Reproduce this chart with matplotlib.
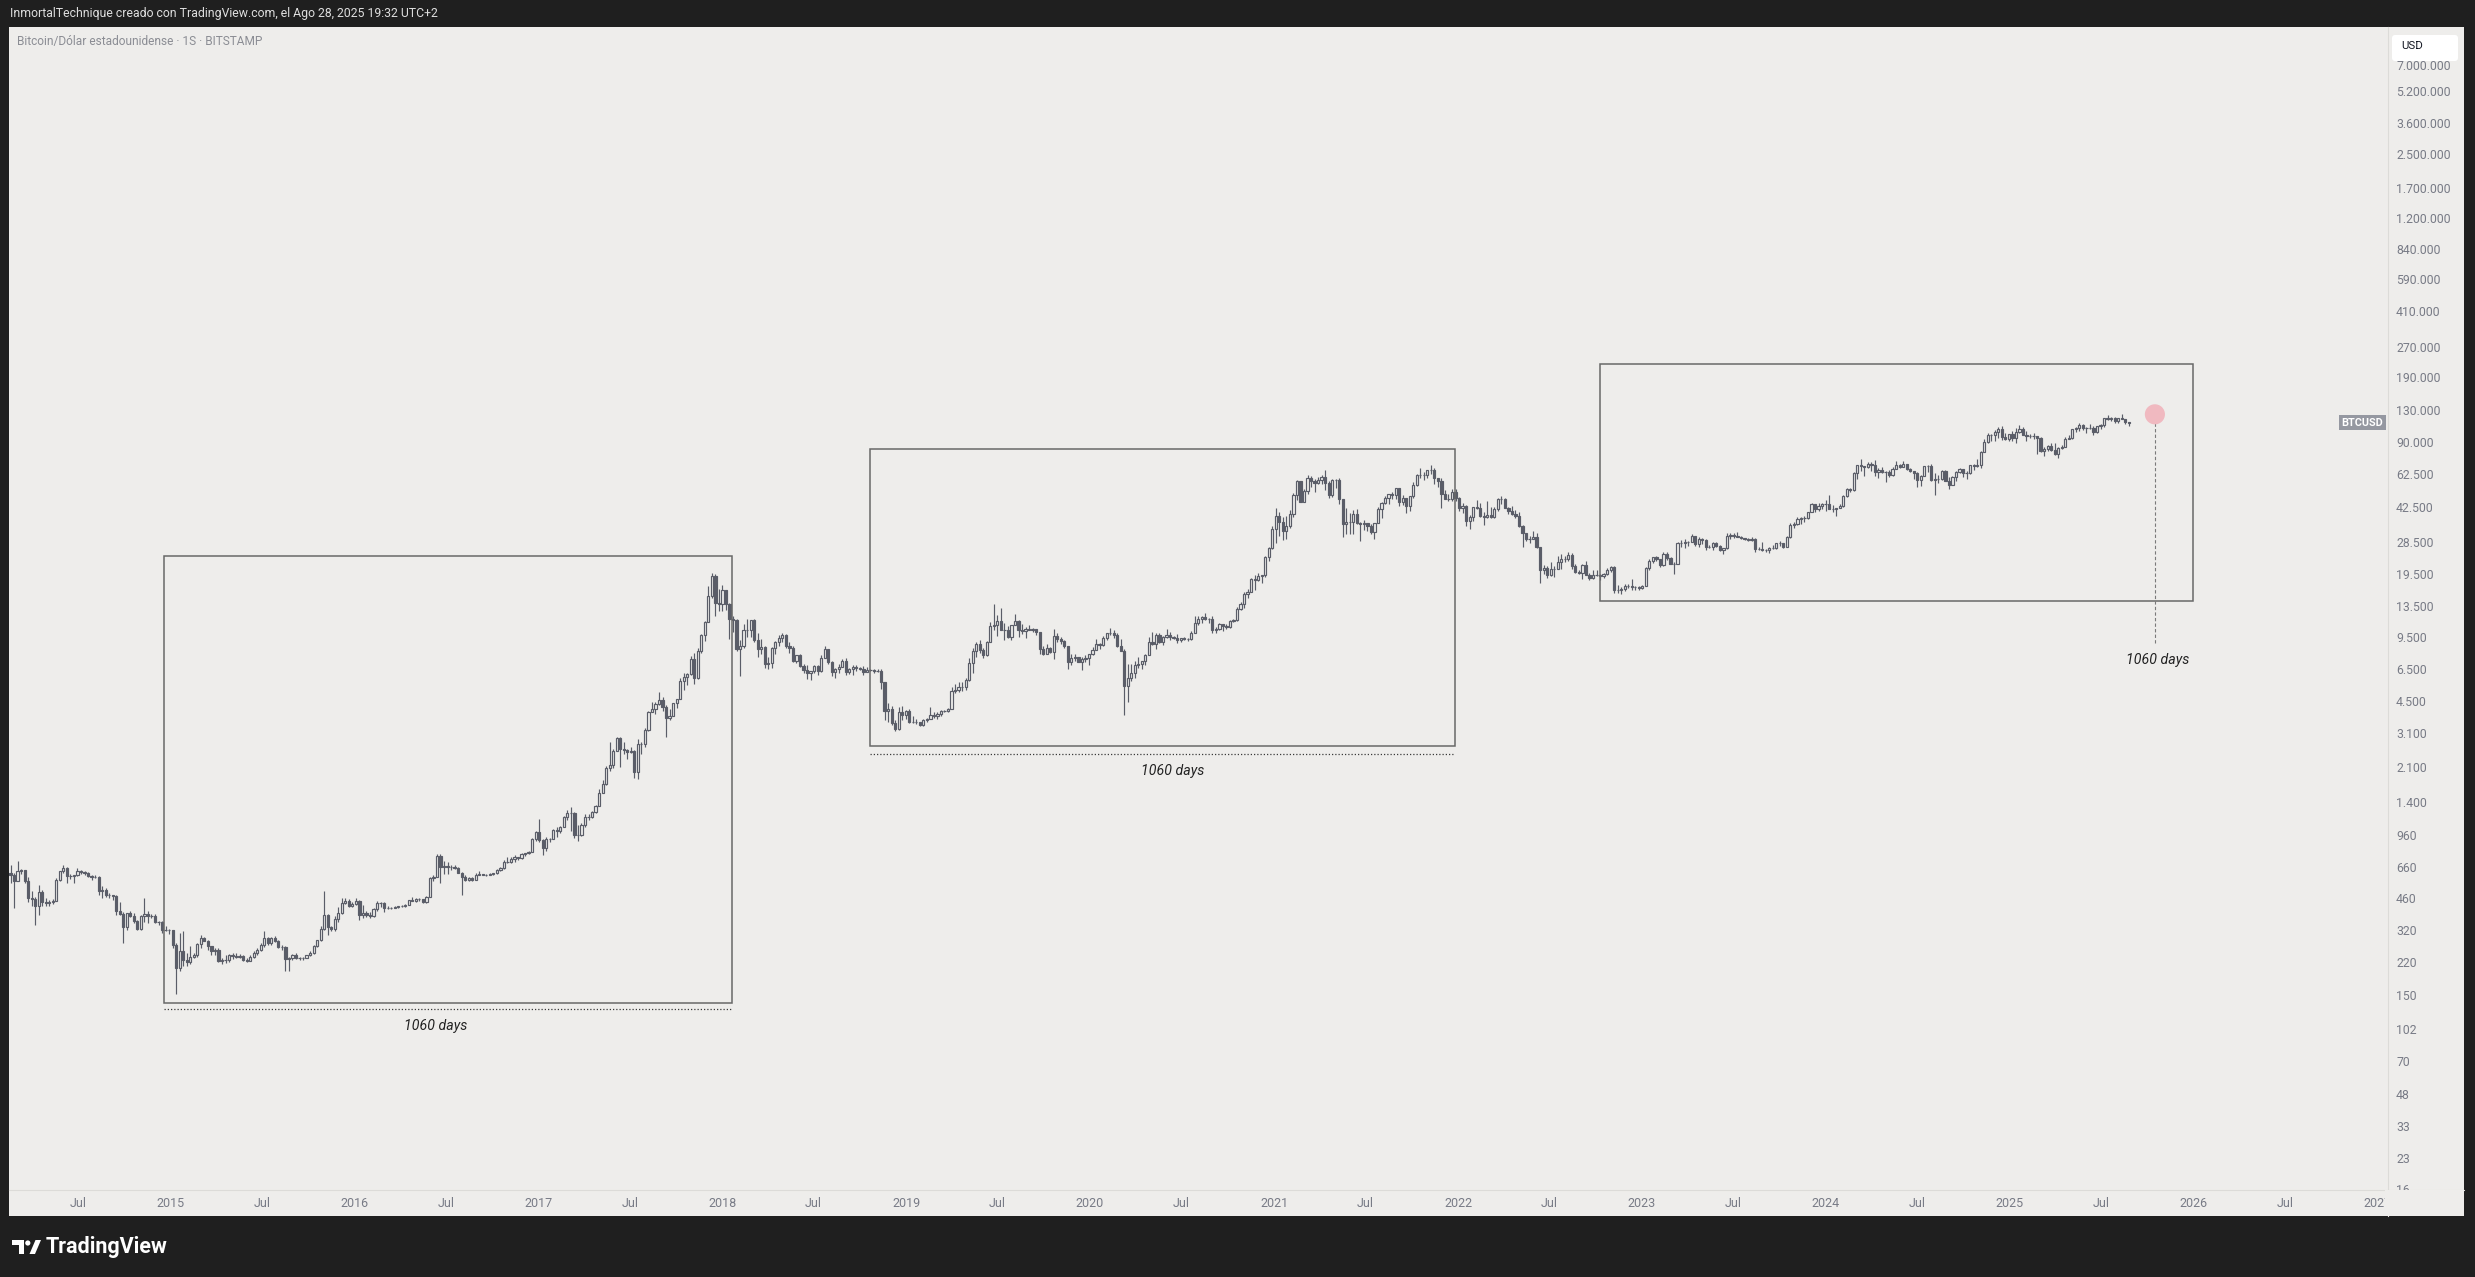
import datetime as dt
import numpy as np
import matplotlib
matplotlib.use("Agg")
import matplotlib.pyplot as plt
import matplotlib.dates as mdates
import matplotlib.ticker as mticker
from matplotlib.patches import Rectangle, Polygon, Circle, FancyBboxPatch
from matplotlib.lines import Line2D
from matplotlib.transforms import Affine2D

plt.rcParams['font.family'] = ['Roboto', 'DejaVu Sans']

# BTC/USD weekly candles (Bitstamp), weeks start on Monday.
# each entry is (high, low, close); the open is the previous close
first_week = dt.date(2014, 2, 17)
first_open = 620

w2014 = [
    (680, 550, 600), (620, 410, 560),
    (710, 560, 630), (650, 610, 640), (640, 550, 565), (590, 440, 460), (500, 420, 455),
    (470, 340, 420), (540, 380, 495), (510, 420, 440), (460, 420, 435),
    (450, 420, 440), (455, 430, 447), (580, 445, 570), (630, 560, 630),
    (680, 620, 655), (660, 550, 595), (610, 575, 595), (600, 550, 600), (655, 595, 635),
    (640, 610, 625), (630, 605, 620), (625, 590, 595), (600, 570, 590),
    (600, 580, 590), (595, 480, 500), (530, 460, 505), (520, 470, 478),
    (490, 465, 477), (480, 450, 475), (480, 380, 400), (440, 380, 385), (395, 275, 330),
    (390, 320, 390), (400, 370, 375), (390, 345, 355), (360, 320, 325),
    (380, 320, 375), (460, 350, 385), (400, 345, 375), (385, 365, 375),
    (385, 345, 350), (355, 340, 350), (355, 310, 320), (335, 315, 320), (325, 305, 318),
]
w2015 = [
    (318, 260, 270), (275, 152, 205), (310, 200, 250), (315, 210, 226),
    (245, 210, 220), (265, 215, 235), (245, 230, 240), (275, 233, 272),
    (300, 260, 290), (295, 280, 282), (285, 255, 265), (265, 240, 250), (260, 240, 253),
    (260, 220, 222), (230, 215, 225), (240, 219, 225), (242, 220, 240),
    (245, 228, 237), (246, 232, 235), (243, 232, 237), (238, 224, 227),
    (231, 221, 224), (238, 224, 235), (252, 230, 245), (258, 238, 255), (275, 252, 270),
    (315, 262, 290), (295, 268, 275), (295, 270, 292), (298, 278, 282),
    (285, 259, 262), (270, 255, 262), (265, 198, 228), (235, 199, 230), (242, 226, 240),
    (245, 228, 230), (234, 225, 231), (235, 226, 232), (240, 232, 240),
    (250, 236, 245), (270, 243, 265), (285, 262, 285), (335, 280, 325),
    (500, 320, 380), (385, 300, 330), (335, 315, 322), (375, 315, 362), (415, 350, 390),
    (465, 385, 435), (465, 430, 445), (457, 415, 420), (440, 415, 430),
]
w2016 = [
    (462, 425, 448), (450, 360, 382), (425, 368, 390), (398, 370, 378),
    (395, 365, 375), (410, 370, 405), (445, 400, 438), (442, 415, 437), (440, 395, 412),
    (420, 405, 414), (418, 405, 412), (420, 410, 418), (422, 410, 420),
    (425, 415, 422), (430, 418, 428), (452, 425, 450), (466, 445, 447),
    (462, 440, 458), (460, 445, 455), (456, 435, 442), (475, 435, 470), (590, 470, 585),
    (600, 565, 590), (770, 590, 752), (765, 550, 660), (710, 610, 670),
    (700, 610, 665), (680, 640, 660), (678, 645, 655), (665, 615, 620),
    (625, 480, 590), (600, 565, 570), (590, 565, 580), (590, 565, 572), (615, 568, 605),
    (630, 600, 608), (612, 600, 605), (610, 593, 605), (615, 600, 612),
    (620, 605, 615), (645, 610, 640), (660, 630, 655), (720, 650, 700), (745, 690, 705),
    (740, 690, 730), (760, 700, 740), (745, 720, 733), (775, 730, 765),
    (775, 750, 775), (795, 770, 790), (930, 790, 920), (1000, 890, 995),
]
w2017 = [
    (1150, 880, 905), (910, 760, 820), (940, 800, 920), (930, 880, 920), (1030, 915, 1015),
    (1055, 940, 1000), (1060, 980, 1055), (1195, 1050, 1180), (1280, 1140, 1230),
    (1330, 1000, 1230), (1250, 930, 960), (1080, 890, 960), (1100, 950, 1080),
    (1215, 1050, 1180), (1220, 1140, 1185), (1260, 1170, 1250), (1360, 1240, 1345),
    (1640, 1340, 1560), (1800, 1560, 1735), (2120, 1710, 2080), (2800, 2000, 2150), (2590, 2080, 2520),
    (2990, 2520, 2950), (2980, 2100, 2600), (2800, 2450, 2570), (2600, 2300, 2500),
    (2650, 2470, 2530), (2550, 1850, 1990), (2900, 1830, 2750), (2820, 2450, 2750), (3300, 2650, 3230),
    (4000, 3200, 3990), (4480, 3950, 4100), (4450, 3900, 4380), (4980, 4300, 4580),
    (4700, 4000, 4200), (4300, 2970, 3700), (4100, 3600, 3800), (4400, 3800, 4400),
    (4600, 4150, 4600), (5850, 4600, 5700), (6200, 5100, 5950), (6200, 5400, 6150), (7600, 6100, 7360),
    (7880, 5500, 5900), (8300, 5800, 8030), (9730, 7900, 9700), (11400, 9000, 11250),
    (17000, 11250, 15200), (19700, 14900, 19100), (19600, 12000, 14000), (16500, 12800, 13800),
]
w2018 = [
    (17200, 12800, 16200), (16300, 12900, 13800), (14000, 9200, 11600), (12000, 10000, 11500), (11700, 8000, 8200),
    (9100, 6000, 8500), (11000, 8300, 10300), (11700, 9500, 10300), (11500, 9400, 11500),
    (11700, 8900, 9100), (9900, 7500, 8200), (9200, 7800, 8450), (8500, 6600, 6900),
    (7500, 6500, 7000), (8400, 6600, 8300), (9000, 7800, 8900), (9700, 8500, 9300), (9900, 8900, 9700),
    (9800, 8300, 8500), (8900, 7900, 8300), (8500, 7100, 7200), (7700, 7000, 7700),
    (7790, 6650, 6780), (6900, 6200, 6460), (6800, 5800, 6200), (6400, 5750, 6360),
    (6800, 6200, 6750), (6800, 6100, 6350), (7700, 6300, 7400), (8500, 7400, 8200), (8250, 6900, 7050),
    (7150, 6000, 6300), (6600, 5900, 6500), (6900, 6250, 6700), (7300, 6750, 7200),
    (7400, 6100, 6300), (6600, 6150, 6500), (6800, 6100, 6700), (6800, 6400, 6600),
    (6700, 6450, 6550), (6750, 6100, 6300), (6700, 6300, 6450), (6550, 6400, 6480), (6500, 6250, 6400),
    (6550, 6300, 6350), (6500, 5200, 5600), (5600, 3600, 4000), (4400, 3550, 4100),
    (4250, 3400, 3500), (3600, 3200, 3250), (4200, 3220, 3950), (4250, 3600, 3850),
]
w2019 = [
    (4050, 3680, 4000), (4100, 3500, 3550), (3800, 3500, 3540), (3650, 3470, 3530), (3550, 3380, 3400),
    (3680, 3360, 3620), (3700, 3550, 3650), (4200, 3650, 3850), (3950, 3700, 3800),
    (3950, 3680, 3900), (4050, 3800, 4000), (4080, 3950, 4020), (4150, 3950, 4100),
    (5300, 4100, 5050), (5460, 4950, 5130), (5650, 5000, 5300), (5650, 5050, 5300), (5900, 5150, 5750),
    (7450, 5700, 6980), (8350, 6200, 8000), (8900, 7500, 8700), (9100, 7900, 8100),
    (8300, 7450, 7650), (9000, 7600, 8900), (11200, 8900, 10700), (13800, 10300, 10800),
    (12200, 9600, 11400), (13200, 10200, 10250), (11100, 9100, 10300), (10700, 9300, 9500), (10900, 9100, 10800),
    (12300, 10800, 11400), (11500, 9500, 10200), (10950, 9800, 10100), (10600, 9300, 10400),
    (10900, 10200, 10300), (10500, 10000, 10350), (10380, 9700, 10000), (10050, 7750, 8200), (8550, 7700, 7800),
    (8750, 7800, 8300), (8400, 7900, 7950), (10350, 7300, 9550), (9950, 8950, 9200),
    (9500, 8700, 9050), (9100, 8300, 8500), (8500, 6500, 7100), (7800, 6800, 7400),
    (7750, 7150, 7500), (7500, 7050, 7100), (7500, 6450, 7300), (7700, 7100, 7400),
]
w2020 = [
    (7780, 6850, 7750), (8450, 7700, 8150), (9200, 8100, 8700), (8850, 8250, 8600), (9600, 8500, 9300),
    (9950, 9100, 9900), (10500, 9700, 9900), (10300, 9300, 9650), (9950, 8450, 8550),
    (9200, 8000, 8030), (8200, 3850, 5350), (6900, 4450, 5850), (6950, 5700, 6250), (7200, 5850, 6800),
    (7480, 6600, 6900), (7200, 6500, 7150), (7750, 6800, 7700), (9450, 7650, 8900),
    (10000, 8600, 8700), (9950, 8200, 9650), (9900, 8800, 8900), (9600, 8650, 9450),
    (10400, 9300, 9650), (10000, 9150, 9450), (9600, 9200, 9300), (9800, 8850, 9150), (9300, 8950, 9300),
    (9450, 9100, 9250), (9350, 9050, 9200), (10100, 9150, 9950), (12000, 9900, 11100),
    (12100, 10900, 11700), (12100, 11100, 11900), (12500, 11500, 11600), (11800, 11100, 11700), (12100, 9850, 10300),
    (10600, 9900, 10350), (11100, 10200, 10950), (10950, 10150, 10750), (10950, 10400, 10650),
    (11500, 10500, 11400), (11700, 11200, 11500), (13300, 11400, 13100), (14100, 12900, 13800),
    (15900, 13200, 15500), (16400, 14800, 15950), (18800, 15900, 18400), (19400, 16300, 18200), (19900, 18100, 19100),
    (19400, 17600, 19250), (24200, 19000, 23700), (26700, 22700, 26500),
]
w2021 = [
    (34000, 26000, 33000), (41900, 28000, 38200), (40000, 30400, 35800), (37800, 28900, 32300), (38500, 29300, 34200),
    (40900, 33400, 39200), (49700, 37900, 48600), (58300, 46200, 57500), (57500, 44900, 45200),
    (52600, 45000, 50900), (61800, 49300, 59100), (61000, 53400, 57300), (58400, 50400, 55800), (60000, 55200, 58200),
    (61200, 55500, 60000), (64900, 51500, 56200), (57500, 47000, 49000), (58500, 47500, 57800),
    (59000, 53000, 58200), (59600, 43800, 46400), (46500, 30000, 34700), (42200, 31100, 35600), (39500, 31100, 35800),
    (40900, 31000, 39100), (41300, 34800, 35500), (35700, 28800, 34700), (36600, 32700, 35300),
    (35000, 32000, 34200), (34700, 31000, 31800), (35500, 29300, 35400), (42600, 35200, 41500),
    (44800, 37400, 44400), (48100, 43800, 47000), (49600, 43900, 49300), (50500, 46400, 48800), (52900, 46700, 52700),
    (52900, 42800, 44900), (48800, 43300, 47300), (47300, 39600, 43200), (48400, 40700, 48200),
    (56600, 47000, 55000), (62000, 54000, 61500), (67000, 59600, 61300), (63700, 58000, 61300),
    (65500, 59400, 64900), (69000, 62300, 65500), (66300, 55500, 59700), (59500, 53300, 57200), (59100, 42000, 49400),
    (51900, 46500, 46700), (49500, 45500, 46700), (52000, 45600, 50800), (52000, 45700, 47300),
]
w2022 = [
    (47500, 40500, 41800), (44500, 39600, 43100), (43500, 34000, 36300), (38900, 32900, 37900), (42600, 36300, 42400),
    (45800, 41700, 42200), (44700, 38000, 38400), (39900, 34300, 37700), (45400, 37300, 38800),
    (42500, 37200, 37800), (42300, 37600, 41300), (46900, 40500, 46800), (48200, 44200, 46400),
    (47000, 42000, 42200), (42400, 39200, 40400), (42900, 38600, 39400), (40800, 37600, 38500),
    (40000, 33700, 34100), (34300, 26700, 31300), (31400, 28700, 29400), (30500, 28000, 29500), (32300, 29300, 29900),
    (31600, 26500, 26600), (26600, 17600, 20600), (21800, 19600, 21000), (21500, 18800, 19300),
    (22500, 19200, 20800), (21500, 18900, 20800), (24200, 20700, 22600), (24600, 20700, 23300),
    (24200, 22400, 23200), (25200, 22700, 24300), (25100, 20800, 21500), (21900, 19800, 20000), (20600, 19600, 19800),
    (21900, 18500, 21800), (22800, 19300, 19400), (19700, 18200, 18800), (20400, 18500, 19300),
    (20500, 19100, 19400), (19500, 18200, 19200), (19700, 18700, 19600), (21000, 19300, 20600), (21500, 20000, 21300),
    (21400, 15700, 16300), (17200, 15800, 16300), (16800, 15500, 16450), (17400, 16000, 17100),
    (17400, 16700, 17100), (18400, 16300, 16800), (17000, 16300, 16800), (17000, 16300, 16600),
]
w2023 = [
    (17200, 16500, 17100), (21300, 17100, 20900), (23300, 20400, 22700), (23800, 22300, 23700), (24200, 22700, 23300),
    (23400, 21300, 21800), (25200, 21400, 24600), (25200, 23100, 23500), (23900, 21900, 22000),
    (22600, 19600, 22100), (28500, 21900, 27900), (29100, 26600, 27900), (29200, 26500, 28200),
    (28800, 27200, 28300), (31000, 28200, 30300), (30400, 27100, 27600), (30000, 26900, 29200),
    (29800, 27700, 28900), (29200, 25900, 26900), (27500, 26400, 26900), (28400, 25900, 28100), (28400, 26600, 27100),
    (27400, 25400, 25800), (26500, 24800, 26300), (31400, 26200, 30500), (31400, 29500, 30600),
    (31500, 29700, 30300), (31800, 29900, 30200), (30400, 29500, 29800), (29800, 29000, 29300), (29800, 28600, 29000),
    (30200, 28700, 29400), (29700, 25200, 26100), (26800, 25700, 26000), (28200, 25500, 25900),
    (26100, 25300, 25800), (26900, 24900, 26500), (27500, 26000, 26300), (28000, 26000, 27950),
    (28600, 27200, 27950), (28000, 26500, 26850), (30300, 26900, 29900), (35200, 29700, 34500), (35900, 33400, 35000),
    (38000, 34500, 37000), (37900, 34800, 37400), (38400, 35600, 37500), (40200, 36800, 39900),
    (44700, 39900, 43800), (44000, 40200, 41400), (44300, 40600, 43000), (44300, 41300, 44200),
]
w2024 = [
    (45900, 40700, 43900), (49000, 41500, 41700), (43600, 40300, 41600), (42200, 38500, 42100), (43900, 41800, 43000),
    (48600, 42500, 48300), (52800, 47700, 52100), (52900, 50500, 51700), (64000, 50900, 63100),
    (69000, 59000, 68900), (73800, 64500, 68300), (68200, 60800, 67200), (71700, 66500, 69600),
    (71300, 64500, 69400), (72800, 60700, 63900), (66900, 59600, 64900), (67100, 62800, 63400), (64700, 56500, 64000),
    (65500, 60200, 61500), (67500, 60600, 66200), (71900, 66100, 69300), (70000, 66600, 67800),
    (71900, 67600, 69600), (69800, 65000, 66200), (66900, 63400, 64300), (64500, 58400, 62700),
    (63800, 53500, 58000), (61500, 54300, 60800), (68300, 60600, 68200), (69300, 63500, 68200), (70000, 57100, 58100),
    (62700, 49000, 58700), (61800, 56200, 58700), (65000, 57800, 64200), (64900, 57200, 57300),
    (59800, 52500, 54800), (60600, 54600, 60000), (64100, 57500, 63600), (66500, 62700, 65600), (65600, 59800, 62800),
    (64400, 58900, 62900), (69400, 62500, 69000), (69500, 65100, 68000), (73600, 67500, 69400),
    (81500, 66800, 80400), (93300, 80000, 89900), (99600, 89300, 97900), (98700, 90800, 97200),
    (104000, 91000, 101100), (106600, 94200, 104300), (108300, 92300, 95000), (99900, 92500, 93700),
]
w2025 = [
    (99000, 91500, 98300), (102700, 91200, 94500), (106000, 89200, 101300), (109500, 99500, 104600), (106500, 97300, 97700),
    (102500, 91200, 96500), (98800, 94100, 96100), (99400, 93300, 96300), (96500, 78200, 94300),
    (95000, 80000, 80700), (85300, 76600, 82600), (87400, 81100, 86100), (88800, 81600, 82400), (88500, 77100, 78300),
    (84700, 74500, 83800), (86500, 83100, 85200), (95700, 85100, 93700), (97900, 92800, 94300),
    (104300, 93400, 104100), (106600, 100800, 106400), (111900, 102000, 109000), (110700, 103100, 105600),
    (106800, 100400, 105700), (110500, 104200, 105500), (108900, 98200, 100900), (108500, 99600, 108400), (110500, 105100, 109200),
    (119500, 107500, 119100), (123200, 115700, 117300), (120200, 114700, 119400), (119900, 112000, 114200),
    (119400, 112700, 119300), (124400, 116800, 117400), (117600, 110800, 113500), (113500, 108700, 112600),
]

price_ticks = [16, 23, 33, 48, 70, 102, 150, 220, 320, 460, 660, 960, 1400, 2100, 3100,
               4500, 6500, 9500, 13500, 19500, 28500, 42500, 62500, 90000, 130000, 190000,
               270000, 410000, 590000, 840000, 1200000, 1700000, 2500000, 3600000, 5200000, 7000000]
year_ticks = list(range(2015, 2028))
jul_ticks = list(range(2014, 2027))

# "1060 days" range boxes: (start, end, low, high)
ranges = [
    (dt.date(2014, 12, 19), dt.date(2018, 1, 20), 138, 24100),
    (dt.date(2018, 10, 21), dt.date(2021, 12, 26), 2690, 82800),
    (dt.date(2022, 10, 10), dt.date(2025, 12, 31), 14300, 223000),
]
range_label = "1060 days"

# ---------------------------------------------------------------
W, H = 2475, 1277
PANEL = "#eeedeb"
FRAME = "#1f1f1f"
CANDLE = "#5a5d68"
AXIS_TXT = "#787b86"
BOX = "#686868"
SEP = "#dcdbd8"

weeks = w2014 + w2015 + w2016 + w2017 + w2018 + w2019 + w2020 + w2021 + w2022 + w2023 + w2024 + w2025
highs = np.array([w[0] for w in weeks], dtype=float)
lows = np.array([w[1] for w in weeks], dtype=float)
closes = np.array([w[2] for w in weeks], dtype=float)
opens = np.concatenate([[first_open], closes[:-1]])
dates = [first_week + dt.timedelta(days=7 * i) for i in range(len(weeks))]
x = mdates.date2num(dates)

fig = plt.figure(figsize=(W / 100, H / 100), dpi=100, facecolor=FRAME)
pix = Affine2D().scale(1, -1).translate(0, H)   # pixel coords, origin top-left

fig.add_artist(Rectangle((9, 27), 2464 - 9, 1216 - 27, transform=pix,
                         facecolor=PANEL, edgecolor="none", zorder=-1))

ax = fig.add_axes([9 / W, 1 - 1189 / H, (2387 - 9) / W, (1189 - 27) / H])
ax.set_facecolor(PANEL)
for s in ax.spines.values():
    s.set_visible(False)

# candles
up = closes >= opens
wick_lo = np.minimum(lows, np.minimum(opens, closes))
wick_hi = np.maximum(highs, np.maximum(opens, closes))
ax.vlines(x, wick_lo, wick_hi, color=CANDLE, lw=0.85, zorder=2)
ax.bar(x[up], (closes - opens)[up], bottom=opens[up], width=4.4,
       facecolor=PANEL, edgecolor=CANDLE, lw=0.85, zorder=3)
ax.bar(x[~up], (opens - closes)[~up], bottom=closes[~up], width=4.4,
       facecolor=CANDLE, edgecolor=CANDLE, lw=0.85, zorder=3)

# range boxes
for d0, d1, lo, hi in ranges:
    x0, x1 = mdates.date2num(d0), mdates.date2num(d1)
    ax.add_patch(Rectangle((x0, lo), x1 - x0, hi - lo, fill=False,
                           edgecolor=BOX, lw=1.1, zorder=4))

# dotted measure lines and labels under the first two boxes
measure = [(ranges[0], 128, dt.date(2016, 6, 11), 105),
           (ranges[1], 2450, dt.date(2020, 6, 14), 2010)]
for (d0, d1, lo, hi), y_dot, d_txt, y_txt in measure:
    ax.plot([mdates.date2num(d0), mdates.date2num(d1)], [y_dot, y_dot],
            color="#3a3a3a", lw=0.9, ls=(0, (1, 1.6)), zorder=4)
    ax.text(mdates.date2num(d_txt), y_txt, range_label, ha="center", va="center",
            fontsize=10.2, fontstyle="italic", color="#222222", zorder=5)

# projected end marker on the third box
cx = mdates.date2num(dt.date(2025, 10, 16))
ax.plot([cx, cx], [8830, 124000], color="#7a7a7a", lw=0.8, ls=(0, (3, 2)), zorder=4)
ax.scatter([cx], [124000], s=210, color="#f0b9c0", edgecolors="none", zorder=5)
ax.text(mdates.date2num(dt.date(2025, 10, 22)), 7260, range_label, ha="center",
        va="center", fontsize=10.2, fontstyle="italic", color="#222222", zorder=5)

# axes scales and ticks
ax.set_yscale("log")
ax.set_ylim(10 ** 1.214, 10 ** 7.038)
ax.set_xlim(mdates.date2num(dt.date(2014, 2, 14)), mdates.date2num(dt.date(2027, 1, 20)))

ax.set_yticks(price_ticks)
ax.set_yticklabels([f"{v:,}".replace(",", ".") for v in price_ticks])
ax.yaxis.set_minor_locator(mticker.NullLocator())
ax.yaxis.tick_right()
ax.tick_params(axis="y", length=0, pad=6.5, labelsize=8.8, labelcolor=AXIS_TXT)

xt = [(mdates.date2num(dt.date(y, 1, 1)), str(y)) for y in year_ticks]
xt += [(mdates.date2num(dt.date(y, 7, 1)), "Jul") for y in jul_ticks]
xt.sort()
ax.set_xticks([p for p, _ in xt])
ax.set_xticklabels([l for _, l in xt])
ax.xaxis.set_minor_locator(mticker.NullLocator())
ax.tick_params(axis="x", length=0, pad=5.5, labelsize=9, labelcolor=AXIS_TXT)

# last price tag
ax.text(0.9985, closes[-1], "BTCUSD", transform=ax.get_yaxis_transform(),
        ha="right", va="center", fontsize=7.8, fontweight="bold", color="white", zorder=6,
        bbox=dict(boxstyle="square,pad=0.25", facecolor="#9598a1", edgecolor="none"))

# separators and covers (price-axis corner, currency box)
fig.add_artist(Line2D([9, 2464], [1189.5, 1189.5], transform=pix, color=SEP, lw=0.8, zorder=4))
fig.add_artist(Line2D([2387.5, 2387.5], [27, 1216], transform=pix, color=SEP, lw=0.8, zorder=4))
fig.add_artist(Rectangle((2385, 1190), 2464 - 2385, 1216 - 1190, transform=pix,
                         facecolor=PANEL, edgecolor="none", zorder=5))
fig.add_artist(FancyBboxPatch((2392, 35), 2458 - 2392, 61 - 35, transform=pix,
                              boxstyle="round,pad=0,rounding_size=3",
                              facecolor="white", edgecolor="none", zorder=5))
fig.text(2401, 46, "USD", transform=pix, ha="left", va="center", fontsize=8.2,
         color="#131722", zorder=6)

# header
fig.text(10, 14, "InmortalTechnique creado con TradingView.com, el Ago 28, 2025 19:32 UTC+2",
         transform=pix, ha="left", va="center", fontsize=8.8, color="#dedede")
fig.text(17, 41, "Bitcoin/Dólar estadounidense · 1S · BITSTAMP", transform=pix,
         ha="left", va="center", fontsize=8.6, color="#8b8d94")

# footer logo
fig.add_artist(Polygon([(12, 1240), (24, 1240), (24, 1254), (19, 1254), (19, 1245), (12, 1245)],
                       closed=True, transform=pix, facecolor="white", edgecolor="none"))
fig.add_artist(Circle((27.8, 1243), 2.6, transform=pix, facecolor="white", edgecolor="none"))
fig.add_artist(Polygon([(29.5, 1254), (35, 1254), (41, 1240), (35.5, 1240)],
                       closed=True, transform=pix, facecolor="white", edgecolor="none"))
fig.text(46, 1247, "TradingView", transform=pix, ha="left", va="center",
         fontsize=15.5, fontweight="semibold", color="white")

fig.savefig("out.png", dpi=100, facecolor=FRAME)
